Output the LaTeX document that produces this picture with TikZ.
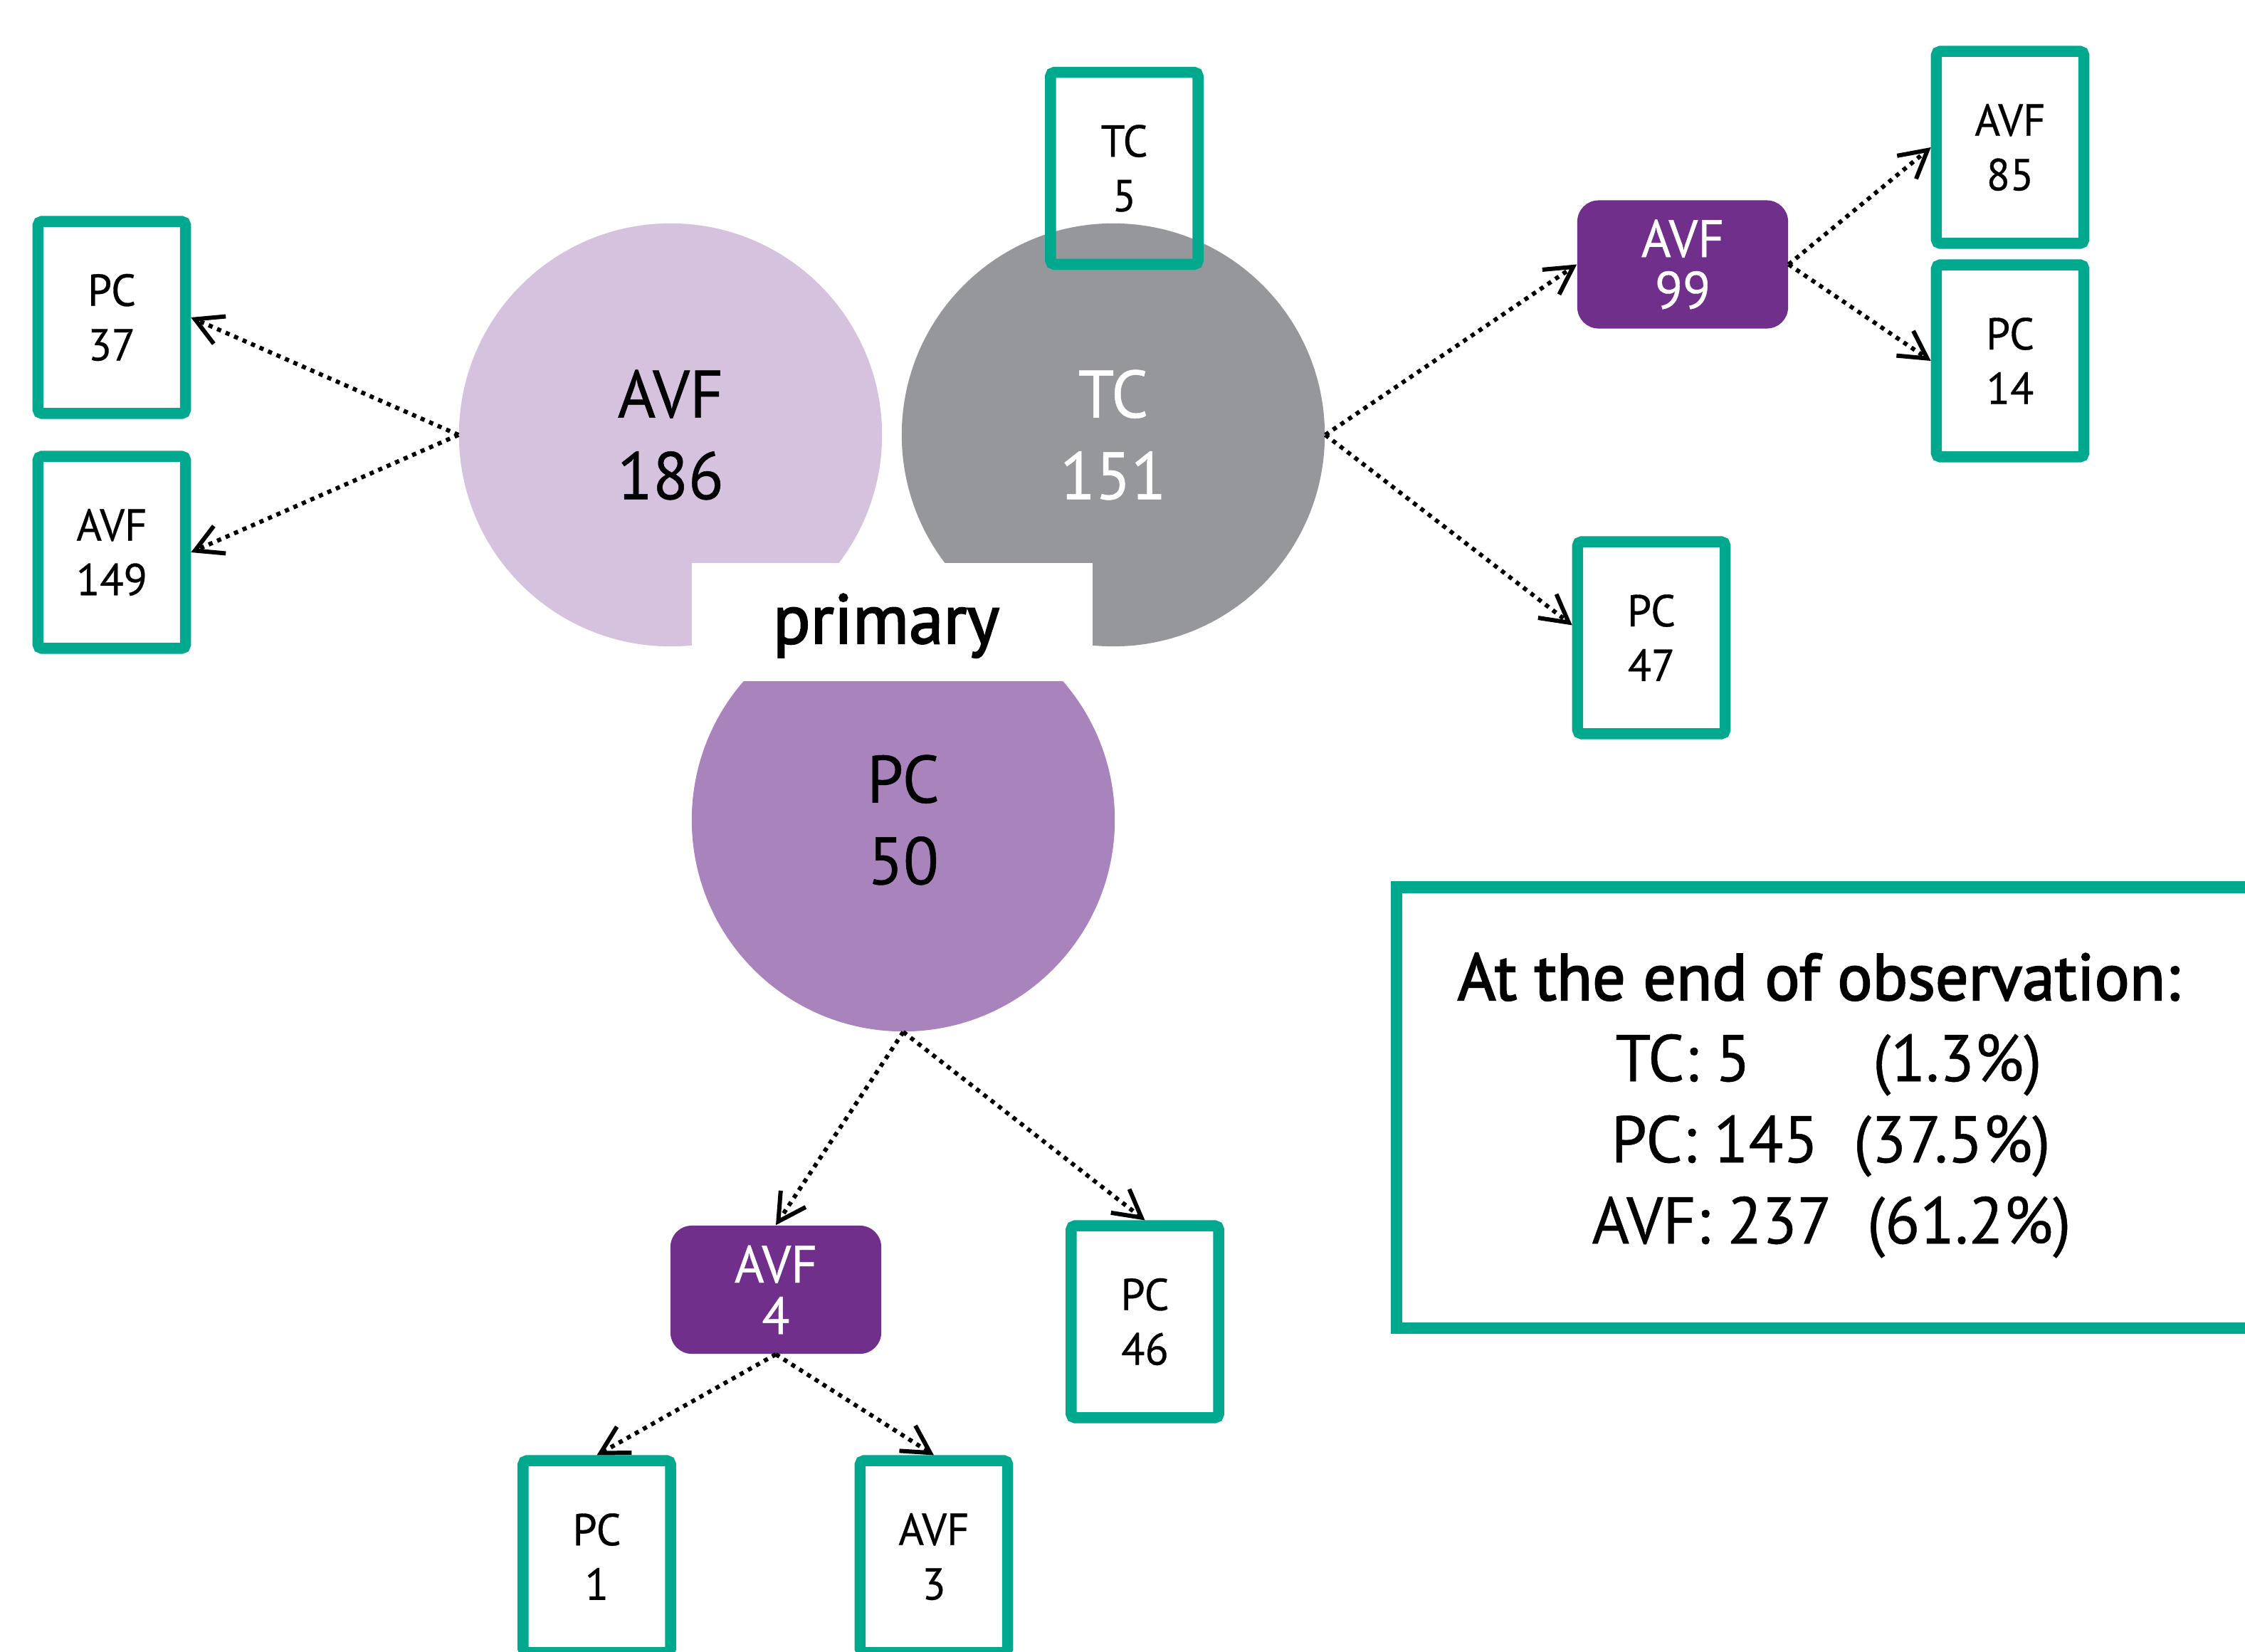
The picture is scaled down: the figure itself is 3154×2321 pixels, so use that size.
\documentclass[tikz,border=0pt]{standalone}
\usepackage{fontspec}
\setmainfont{PT Sans}[FakeStretch=0.97, FakeBold=0.5]
\newfontfamily\headfont{PT Sans}[FakeStretch=0.99, FakeBold=2.2]
\usetikzlibrary{arrows.meta,positioning}

\definecolor{boxgreen}{RGB}{0,168,142}
\definecolor{avfdark}{RGB}{112,47,138}
\definecolor{avflight}{RGB}{213,194,222}
\definecolor{pcmid}{RGB}{169,131,188}
\definecolor{tcgray}{RGB}{150,151,155}

\tikzset{
  catnode/.style={circle, minimum size=5.94cm, inner sep=0pt, align=center,
    font=\fontsize{26.8}{32.6}\selectfont},
  outbox/.style={draw=boxgreen, line width=4.4pt, rounded corners=1.5pt,
    minimum width=2.07cm, minimum height=2.695cm, inner sep=0pt, align=center,
    font=\fontsize{17.9}{21.8}\selectfont},
  midbox/.style={fill=avfdark, rounded corners=8.5pt, minimum width=2.96cm,
    minimum height=1.8cm, inner sep=0pt, align=center, text=white,
    font=\fontsize{21}{20.6}\selectfont},
  flow/.style={line width=1.7pt, dash pattern=on 1.7pt off 2pt,
    -{Straight Barb[length=3.8mm, width=4.2mm, line width=1.7pt]}},
  endline/.style={anchor=base, font=\fontsize{26.4}{32}\selectfont},
}

\begin{document}
\begin{tikzpicture}[x=0.01cm, y=-0.01cm]
\useasboundingbox (0,0) rectangle (3154,2321);
\clip (0,0) rectangle (3154,2321);

% primary access
\node[catnode, fill=avflight] (avfc) at (942,611) {AVF\\186};
\node[catnode, fill=tcgray, text=white] (tcc) at (1564,611) {TC\\151};
\node[catnode, fill=pcmid] (pcc) at (1269,1152) {PC\\50};
\node[fill=white, minimum width=5.63cm, minimum height=1.66cm, inner sep=0pt] (primbg) at (1253.5,874) {};
\node[anchor=base, font=\fontsize{28}{32}\headfont] (prim) at (1245,904) {primary};

% outcomes
\node[outbox] (pc37) at (157,446) {PC\\37};
\node[outbox] (avf149) at (157,776) {AVF\\149};
\node[outbox] (tc5) at (1579.5,236.5) {TC\\5};
\node[midbox] (avf99) at (2364,371.5) {AVF\\99};
\node[outbox] (avf85) at (2824,207) {AVF\\85};
\node[outbox] (pc14) at (2824,507) {PC\\14};
\node[outbox] (pc47) at (2320,896) {PC\\47};
\node[midbox] (avf4) at (1090,1812) {AVF\\4};
\node[outbox] (pc46) at (1608.5,1857) {PC\\46};
\node[outbox] (pc1) at (838.5,2187) {PC\\1};
\node[outbox] (avf3) at (1312,2187) {AVF\\3};

\draw[flow] (avfc.west) -- (pc37.east);
\draw[flow] (avfc.west) -- (avf149.east);
\draw[flow] (tcc.east) -- (avf99.west);
\draw[flow] (tcc.east) -- (pc47.171);
\draw[flow] (avf99.east) -- (avf85.west);
\draw[flow] (avf99.east) -- (pc14.west);
\draw[flow] (pcc.south) -- (avf4.north);
\draw[flow] (pcc.south) -- (pc46.north);
\draw[flow] (avf4.south) -- (pc1.north);
\draw[flow] (avf4.south) -- (avf3.north);

% summary
\draw[boxgreen, line width=4.8pt] (1962,1246.5) rectangle (3220,1866);
\node[endline, font=\fontsize{26.4}{32}\headfont] (endhead) at (2555,1405) {At the end of observation:};
\node[endline] (endtc) at (2569,1519) {TC: 5\hspace{1.85em}(1.3\%)};
\node[endline] (endpc) at (2572,1633) {PC: 145\hspace{0.53em}(37.5\%)};
\node[endline] (endavf) at (2573,1747) {AVF: 237\hspace{0.53em}(61.2\%)};
\end{tikzpicture}
\end{document}
